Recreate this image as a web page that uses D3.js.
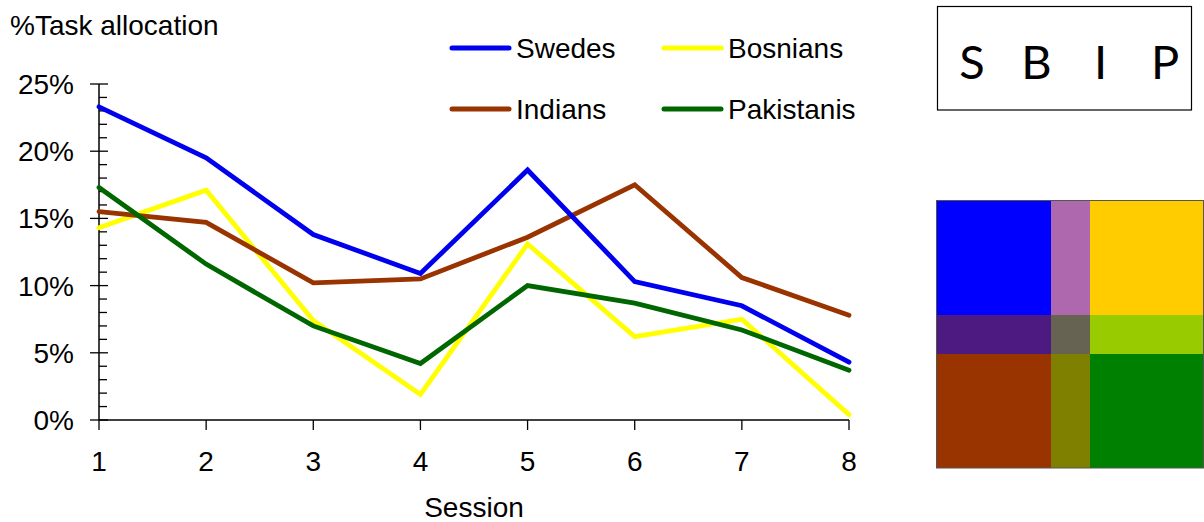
<!DOCTYPE html>
<html><head><meta charset="utf-8">
<script src="https://cdn.jsdelivr.net/npm/d3@7"></script>
<style>body{margin:0;background:#fff}svg{display:block}text{font-family:"Liberation Sans",Arial,sans-serif;fill:#000}</style>
</head><body>
<svg id="c" width="1204" height="522"></svg>
<script>
const sessions = [1,2,3,4,5,6,7,8];
const swedes     = [23.3,19.5,13.8,10.9,18.6,10.3,8.5,4.3];
const bosnians   = [14.3,17.1,7.4,1.9,13.1,6.2,7.5,0.4];
const indians    = [15.5,14.7,10.2,10.5,13.6,17.5,10.6,7.8];
const pakistanis = [17.3,11.6,7.0,4.2,10.0,8.7,6.7,3.7];
const seriesNames = ["Swedes","Bosnians","Indians","Pakistanis"];
const seriesColors = ["#0000ee","#ffff00","#993300","#006600"];
const yTicks = [0,5,10,15,20,25];
const boxLetters = ["S","B","I","P"];
const gridCols = ["S","SB","B"];
const gridRows = ["S","SP","P"];
const gridColors = [["#0000ff","#ae69ae","#ffcc00"],["#4c1a80","#666352","#99cc00"],["#993300","#808000","#008000"]];

const svg = d3.select("#c");
const x = d3.scaleLinear().domain([1,8]).range([99,849]);
const y = d3.scaleLinear().domain([0,25]).range([420,84]);
const FS = 28;

// title
svg.append("text").attr("x",10).attr("y",35).attr("font-size",FS).text("%Task allocation");

// y axis
const ya = svg.append("g").attr("transform","translate(99,0)");
ya.append("line").attr("y1",y(25)).attr("y2",y(0)).attr("stroke","#000").attr("stroke-width",1.5);
ya.selectAll(".mn").data(d3.range(0,26)).join("line")
  .attr("x1",0).attr("x2",d=>d%5===0?9:8).attr("y1",d=>y(d)).attr("y2",d=>y(d)).attr("stroke","#000").attr("stroke-width",1.3);
ya.selectAll(".mj").data(yTicks).join("line")
  .attr("x1",-9).attr("x2",0).attr("y1",d=>y(d)).attr("y2",d=>y(d)).attr("stroke","#000").attr("stroke-width",1.3);
ya.selectAll("text").data(yTicks).join("text")
  .attr("x",-25).attr("y",d=>y(d)).attr("dy","0.36em").attr("text-anchor","end").attr("font-size",FS).text(d=>d+"%");

// x axis
const xa = svg.append("g");
xa.append("line").attr("x1",x(1)).attr("x2",x(8)).attr("y1",y(0)).attr("y2",y(0)).attr("stroke","#000").attr("stroke-width",1.5);
xa.selectAll(".t").data(sessions).join("line")
  .attr("x1",d=>x(d)).attr("x2",d=>x(d)).attr("y1",y(0)).attr("y2",y(0)+10).attr("stroke","#000").attr("stroke-width",1.3);
xa.selectAll("text").data(sessions).join("text")
  .attr("x",d=>x(d)).attr("y",471).attr("text-anchor","middle").attr("font-size",FS).text(d=>d);
svg.append("text").attr("x",(x(1)+x(8))/2).attr("y",517).attr("text-anchor","middle").attr("font-size",FS).text("Session");

// lines
const allSeries = [swedes,bosnians,indians,pakistanis];
const line = d3.line().x((d,i)=>x(sessions[i])).y(d=>y(d));
const drawOrder = [1,2,3,0];
drawOrder.forEach(k=>{
  svg.append("path").attr("d",line(allSeries[k])).attr("fill","none")
    .attr("stroke",seriesColors[k]).attr("stroke-width",4.8).attr("stroke-linejoin","miter").attr("stroke-linecap","round");
});

// legend
const legPos = [[452,48],[664,48],[452,109],[664,109]];
seriesNames.forEach((n,k)=>{
  const [lx,ly]=legPos[k];
  svg.append("line").attr("x1",lx).attr("x2",lx+57).attr("y1",ly).attr("y2",ly)
    .attr("stroke",seriesColors[k]).attr("stroke-width",5).attr("stroke-linecap","round");
  svg.append("text").attr("x",lx+64).attr("y",ly+10).attr("font-size",FS).text(n);
});

// SBIP box
svg.append("rect").attr("x",937.5).attr("y",6.5).attr("width",254).attr("height",103.5).attr("fill","none").attr("stroke","#000").attr("stroke-width",1.2);
const bx = d3.scalePoint().domain(boxLetters).range([972,1165]);
svg.selectAll(".bl").data(boxLetters).join("text")
  .attr("x",d=>bx(d)).attr("y",79).attr("text-anchor","middle").attr("font-size",47)
  .style("font-family","Lato,'Open Sans',sans-serif").style("font-weight",400).text(d=>d);

// colour grid
const gx = d3.scaleOrdinal().domain(gridCols).range([937,1051,1090]);
const gw = d3.scaleOrdinal().domain(gridCols).range([114,39,113]);
const gy = d3.scaleOrdinal().domain(gridRows).range([201,315,354]);
const gh = d3.scaleOrdinal().domain(gridRows).range([114,39,114]);
gridRows.forEach((r,ri)=>gridCols.forEach((c,ci)=>{
  svg.append("rect").attr("x",gx(c)).attr("y",gy(r)).attr("width",gw(c)).attr("height",gh(r)).attr("fill",gridColors[ri][ci]);
}));
svg.append("rect").attr("x",936.5).attr("y",200.5).attr("width",267).attr("height",267.5).attr("fill","none").attr("stroke","#555").attr("stroke-width",1);
</script>
</body></html>
